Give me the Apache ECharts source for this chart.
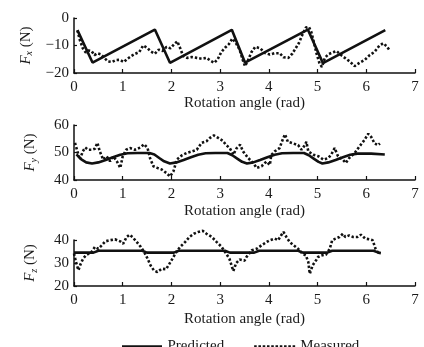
<!DOCTYPE html>
<html><head><meta charset="utf-8">
<script src="https://cdn.jsdelivr.net/npm/echarts@6/dist/echarts.min.js"></script>
<style>html,body{margin:0;padding:0;background:#fff}#c{width:424px;height:347px}</style>
</head><body><div id="c"></div>
<script>
// x tick labels
const xTicks = [0,1,2,3,4,5,6,7];
const seriesNames = ['Predicted','Measured'];
// Fx (N)
const fxPredicted = [[0.07,-4.4],[0.38,-16.2],[1.66,-4.2],[1.97,-16.3],[3.24,-4.3],[3.51,-16.2],[4.8,-4.2],[5.11,-16.4],[6.39,-4.4]];
const fxMeasured = [[0.07,-4.5],[0.12,-8],[0.18,-11],[0.24,-12.5],[0.30,-11.8],[0.36,-12],[0.42,-13.5],[0.48,-12.8],[0.55,-13.2],[0.62,-14.5],[0.70,-15.8],[0.78,-16],[0.86,-15.3],[0.94,-15.2],[1.02,-16],[1.10,-14.8],[1.18,-13.8],[1.26,-13],[1.34,-12.4],[1.42,-10],[1.50,-10.8],[1.58,-12.2],[1.66,-13],[1.74,-11.5],[1.82,-12],[1.90,-10.5],[1.98,-11],[2.06,-9.5],[2.12,-8.5],[2.18,-11],[2.24,-13.8],[2.32,-14.5],[2.42,-14.2],[2.52,-14.5],[2.62,-14.8],[2.72,-14.5],[2.80,-15.5],[2.88,-16.3],[2.95,-15],[3.02,-12.5],[3.10,-10.8],[3.18,-9.5],[3.25,-7.5],[3.32,-9],[3.40,-11.5],[3.46,-15],[3.51,-17.5],[3.57,-15.5],[3.64,-12.5],[3.72,-10.5],[3.82,-11],[3.92,-12.7],[4.02,-13.3],[4.12,-12.8],[4.22,-12.8],[4.30,-14.3],[4.40,-14.5],[4.48,-13],[4.55,-11],[4.62,-9],[4.69,-6],[4.76,-3.5],[4.82,-3.2],[4.87,-5],[4.92,-8.5],[4.98,-13],[5.04,-16.5],[5.09,-17.8],[5.15,-14.5],[5.22,-13.2],[5.31,-12.5],[5.39,-12],[5.47,-13.3],[5.56,-14.5],[5.66,-15.8],[5.76,-17.5],[5.86,-16.3],[5.97,-15.2],[6.07,-13.5],[6.17,-12.3],[6.27,-10],[6.35,-9.2],[6.42,-10.3],[6.49,-12]];
// Fy (N)
const fyPredicted = [[0.05,49.3],[0.15,47.5],[0.25,46.4],[0.37,46.0],[0.5,46.4],[0.65,47.3],[0.8,48.3],[0.95,49.2],[1.1,49.7],[1.3,49.8],[1.55,49.8],[1.65,49.3],[1.75,48.0],[1.85,46.8],[1.97,46.0],[2.1,46.4],[2.25,47.3],[2.4,48.3],[2.55,49.2],[2.7,49.7],[2.9,49.8],[3.15,49.8],[3.25,49.0],[3.35,47.8],[3.45,46.6],[3.55,46.0],[3.68,46.4],[3.82,47.3],[3.97,48.3],[4.12,49.2],[4.27,49.7],[4.5,49.8],[4.72,49.8],[4.82,49.0],[4.92,47.8],[5.02,46.6],[5.1,46.0],[5.22,46.4],[5.37,47.3],[5.52,48.3],[5.67,49.2],[5.82,49.6],[6.1,49.6],[6.38,49.3]];
const fyMeasured = [[0.02,53.5],[0.07,50.4],[0.12,47.4],[0.18,50.4],[0.23,51.8],[0.29,51],[0.36,51],[0.43,51.4],[0.48,53.5],[0.53,50.4],[0.6,47.4],[0.67,48.6],[0.74,46.8],[0.81,48.6],[0.88,46.8],[0.95,44.4],[1.0,48.6],[1.07,51],[1.15,51.6],[1.25,51],[1.36,51.8],[1.44,53],[1.51,51.6],[1.56,48],[1.63,45],[1.71,44.4],[1.8,43.8],[1.9,42.5],[1.97,41.3],[2.04,43.1],[2.11,47.4],[2.21,48.9],[2.31,49.8],[2.42,50.4],[2.52,51],[2.62,53.5],[2.72,54.1],[2.79,55.3],[2.87,56.2],[2.96,55.3],[3.05,54.3],[3.12,52.8],[3.2,51.5],[3.27,49.2],[3.34,51.6],[3.41,52.8],[3.47,50.4],[3.58,47.9],[3.68,46.2],[3.75,44.4],[3.85,45],[3.95,46.7],[4.02,45.5],[4.05,49.1],[4.12,50.4],[4.22,51.6],[4.28,54.5],[4.33,56.6],[4.39,53.9],[4.5,53.3],[4.6,52.7],[4.67,51],[4.74,52.7],[4.77,53.9],[4.81,50.4],[4.91,49.2],[5.02,48.6],[5.12,47.4],[5.22,48],[5.28,49.2],[5.35,51.6],[5.42,48.6],[5.52,47.4],[5.58,46.2],[5.65,48],[5.76,49.8],[5.86,52.2],[5.96,54.5],[6.04,56.8],[6.1,55.7],[6.17,53.3],[6.24,52.7],[6.28,53.3]];
// Fz (N)
const fzPredicted = [[0.0,34.5],[0.4,34.5],[0.5,35.3],[1.4,35.3],[1.5,34.5],[2.05,34.5],[2.15,35.3],[3.1,35.3],[3.2,34.5],[3.7,34.5],[3.8,35.3],[4.6,35.3],[4.7,34.5],[5.2,34.5],[5.3,35.3],[6.15,35.3],[6.25,34.5],[6.3,34.3]];
const fzMeasured = [[0.0,34.1],[0.04,30.5],[0.09,26.9],[0.14,29.8],[0.19,32],[0.25,33.4],[0.29,34.1],[0.36,34.8],[0.43,37],[0.5,36.2],[0.57,37.7],[0.64,39.4],[0.74,39.9],[0.84,40.3],[0.95,39.4],[1.01,38.4],[1.08,41.3],[1.14,42.3],[1.2,41.3],[1.29,39.1],[1.37,37],[1.44,34.8],[1.51,31.9],[1.57,29],[1.64,26.8],[1.71,26.1],[1.8,27.5],[1.89,27.3],[1.96,29.7],[2.03,32.2],[2.1,34.8],[2.18,37],[2.28,39.1],[2.37,41.3],[2.46,42.7],[2.55,43.5],[2.64,44],[2.72,42.7],[2.83,41.3],[2.93,39.1],[3.03,37],[3.1,34.8],[3.19,31.9],[3.27,26.5],[3.33,30],[3.4,31.5],[3.5,31],[3.54,32.6],[3.65,35.5],[3.75,36.2],[3.85,37.7],[3.95,39.1],[4.02,39.9],[4.12,40.6],[4.19,39.9],[4.26,42.3],[4.3,43.5],[4.36,41.3],[4.43,39.1],[4.51,37.7],[4.6,36.2],[4.69,34],[4.76,33.3],[4.81,30.4],[4.84,25.3],[4.9,29],[4.97,31.2],[5.01,32.6],[5.08,33.3],[5.17,33.6],[5.25,36.2],[5.3,39.9],[5.37,40.6],[5.45,41.3],[5.52,42.7],[5.57,41.3],[5.65,42],[5.73,41.3],[5.82,41.3],[5.89,42.3],[5.98,40.6],[6.06,40.3],[6.13,39.9],[6.19,36.2],[6.23,34.8],[6.28,34]];
const yRanges = [[-20,0],[40,60],[20,40]];
const ySubs = ['x','y','z'];

const FONT = 'Liberation Serif, Times New Roman, serif';
const TXT = '#1a1a1a';
const grids = [
  {left:74, right:9, top:18, height:55},
  {left:74, right:9, top:125, height:55},
  {left:74, right:9, top:240, height:46}
];
const nameGaps = [23, 24, 26];
const xAxes = grids.map((g,i)=>({
  type:'value', gridIndex:i, min:xTicks[0], max:xTicks[xTicks.length-1], interval:1,
  name:'Rotation angle (rad)', nameLocation:'middle', nameGap:nameGaps[i],
  nameTextStyle:{fontFamily:FONT, fontSize:15, color:TXT},
  axisLine:{show:true, onZero:false, lineStyle:{color:'#111', width:1.5}},
  axisTick:{show:true, inside:true, length:4, lineStyle:{color:'#111', width:1.2}},
  axisLabel:{fontFamily:FONT, fontSize:15, color:TXT, margin:7},
  splitLine:{show:false}
}));
const yAxes = grids.map((g,i)=>({
  type:'value', gridIndex:i, min:yRanges[i][0], max:yRanges[i][1], interval:10,
  name:'{i|F}{s|'+ySubs[i]+'}{n| (N)}', nameLocation:'middle', nameGap:35, nameRotate:90,
  nameTextStyle:{fontFamily:FONT, fontSize:15, color:TXT, rich:{
    i:{fontFamily:FONT, fontSize:15, fontStyle:'italic', color:TXT},
    s:{fontFamily:FONT, fontSize:10, fontStyle:'italic', color:TXT, padding:[8,0,0,0]},
    n:{fontFamily:FONT, fontSize:15, color:TXT}
  }},
  axisLine:{show:true, onZero:false, lineStyle:{color:'#111', width:1.5}},
  axisTick:{show:true, inside:true, length:3, lineStyle:{color:'#111', width:1.2}},
  axisLabel:{fontFamily:FONT, fontSize:15, color:TXT, margin:5,
    formatter:v=> v<0 ? '\u2212'+Math.abs(v) : String(v)},
  splitLine:{show:false}
}));
const datasets = [[fxPredicted,fxMeasured],[fyPredicted,fyMeasured],[fzPredicted,fzMeasured]];
const series = [];
datasets.forEach((pair,i)=>{
  series.push({name:seriesNames[0], type:'line', xAxisIndex:i, yAxisIndex:i, data:pair[0],
    showSymbol:false, symbol:'none', smooth:false, animation:false, clip:false,
    itemStyle:{color:'#111'},
    lineStyle:{color:'#111', width:2.6, type:'solid'}});
  series.push({name:seriesNames[1], type:'line', xAxisIndex:i, yAxisIndex:i, data:pair[1],
    showSymbol:false, symbol:'none', smooth:false, animation:false, clip:false,
    itemStyle:{color:'#111'},
    lineStyle:{color:'#111', width:2.6, type:[2.4,2]}});
});
let dotPath = 'path://';
for (let k=0;k<10;k++){ dotPath += 'M'+(k*4)+',0h2.4v2.4h-2.4z'; }
const chart = echarts.init(document.getElementById('c'), null, {renderer:'canvas'});
chart.setOption({
  animation:false,
  backgroundColor:'#fff',
  grid:grids, xAxis:xAxes, yAxis:yAxes, series:series,
  legend:{
    data:[
      {name:seriesNames[0], icon:'path://M0,0h40v2.6h-40z', itemStyle:{color:'#111'}},
      {name:seriesNames[1], icon:dotPath, itemStyle:{color:'#111'}}
    ],
    left:122, top:339, itemWidth:41, itemHeight:2.6, itemGap:30, padding:0,
    textStyle:{fontFamily:FONT, fontSize:15, color:TXT}
  }
});
</script>
</body></html>
